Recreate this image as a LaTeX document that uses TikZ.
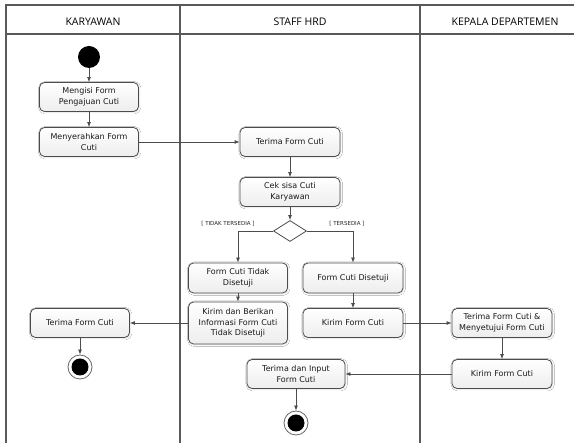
\documentclass[tikz,border=0pt]{standalone}
\usepackage{fontspec}
\usetikzlibrary{arrows.meta,shapes.geometric,shadows.blur}
\newfontfamily\actfont{DejaVu Sans}
\newfontfamily\lanefont{Open Sans}

\tikzset{
  lane/.style={draw=black!65, line width=1.3pt},
  act/.style={draw=black!70, line width=0.8pt, rounded corners=5pt,
    top color=white, bottom color=black!7, text=black!90,
    minimum width=99pt, minimum height=29pt, inner sep=1pt, align=center,
    font=\actfont\fontsize{8}{10.5}\selectfont,
    blur shadow={shadow xshift=0.7pt, shadow yshift=-0.7pt, shadow blur steps=3, shadow opacity=14}},
  flow/.style={draw=black!70, line width=0.8pt, -{Latex[length=5pt,width=4pt]}},
  guard/.style={font=\actfont\fontsize{5.5}{6}\selectfont, text=black!85, inner sep=0pt},
  head/.style={font=\lanefont\fontsize{10.5}{12}\selectfont, text=black, inner sep=0pt},
  startnode/.style={circle, fill=black, minimum size=22pt, inner sep=0pt},
  endnode/.style={circle, draw=black!60, fill=white, line width=0.8pt,
    minimum size=24pt, inner sep=0pt,
    path picture={\fill[black] (path picture bounding box.center) circle (8.5pt);}},
}

\begin{document}
\begin{tikzpicture}[x=1pt, y=-1pt]
  \useasboundingbox (0,0) rectangle (574,443);
  \fill[white] (0,0) rectangle (574,443);

  % swimlane frame
  \draw[lane] (6,443) -- (6,5) -- (574,5);
  \draw[lane] (6,34) -- (574,34);
  \draw[lane] (180,5) -- (180,443);
  \draw[lane] (420,5) -- (420,443);

  \node[head] (hk) at (93,22) {KARYAWAN};
  \node[head] (hh) at (300,22) {STAFF HRD};
  \node[head] (hd) at (505,22) {KEPALA DEPARTEMEN};

  % Karyawan lane
  \node[startnode] (start) at (89,57) {};
  \node[act] (isi) at (89,97) {Mengisi Form\\Pengajuan Cuti};
  \node[act] (serah) at (89,142) {Menyerahkan Form\\Cuti};
  \node[act] (terimaK) at (80,323) {Terima Form Cuti};
  \node[endnode] (endK) at (80,367) {};

  % Staff HRD lane
  \node[act, minimum width=100pt] (terimaH) at (290,142) {Terima Form Cuti};
  \node[act, minimum width=100pt] (cek) at (290,192) {Cek sisa Cuti\\Karyawan};
  \node[diamond, draw=black!70, line width=0.8pt, fill=white, aspect=1.57,
        minimum width=33pt, minimum height=21pt, inner sep=0pt] (dec) at (290,231) {};
  \node[guard] (gtidak) at (228,224) {[ TIDAK TERSEDIA ]};
  \node[guard] (gada) at (347,224) {[ TERSEDIA ]};
  \node[act, minimum height=30pt] (tolak) at (238,278) {Form Cuti Tidak\\Disetuji};
  \node[act, minimum width=100pt, minimum height=30pt] (setuju) at (353,278) {Form Cuti Disetuji};
  \node[act, minimum height=42pt] (info) at (238,323) {Kirim dan Berikan\\Informasi Form Cuti\\Tidak Disetuji};
  \node[act, minimum width=100pt] (kirimH) at (353,323) {Kirim Form Cuti};
  \node[act, minimum width=98pt] (input) at (296,374) {Terima dan Input\\Form Cuti};
  \node[endnode] (endH) at (296,423) {};

  % Kepala Departemen lane
  \node[act, minimum width=100pt] (acc) at (502,323) {Terima Form Cuti \&\\Menyetujui Form Cuti};
  \node[act, minimum width=100pt] (kirimD) at (502,374) {Kirim Form Cuti};

  % control flows
  \draw[flow] (start) -- (isi);
  \draw[flow] (isi) -- (serah);
  \draw[flow] (serah) -- (terimaH);
  \draw[flow] (terimaH) -- (cek);
  \draw[flow] (cek) -- (dec);
  \draw[flow] (dec.west) -| (tolak.north);
  \draw[flow] (dec.east) -| (setuju.north);
  \draw[flow] (tolak) -- (info);
  \draw[flow] (setuju) -- (kirimH);
  \draw[flow] (info) -- (terimaK);
  \draw[flow] (terimaK) -- (endK);
  \draw[flow] (kirimH) -- (acc);
  \draw[flow] (acc) -- (kirimD);
  \draw[flow] (kirimD) -- (input);
  \draw[flow] (input) -- (endH);
\end{tikzpicture}
\end{document}
